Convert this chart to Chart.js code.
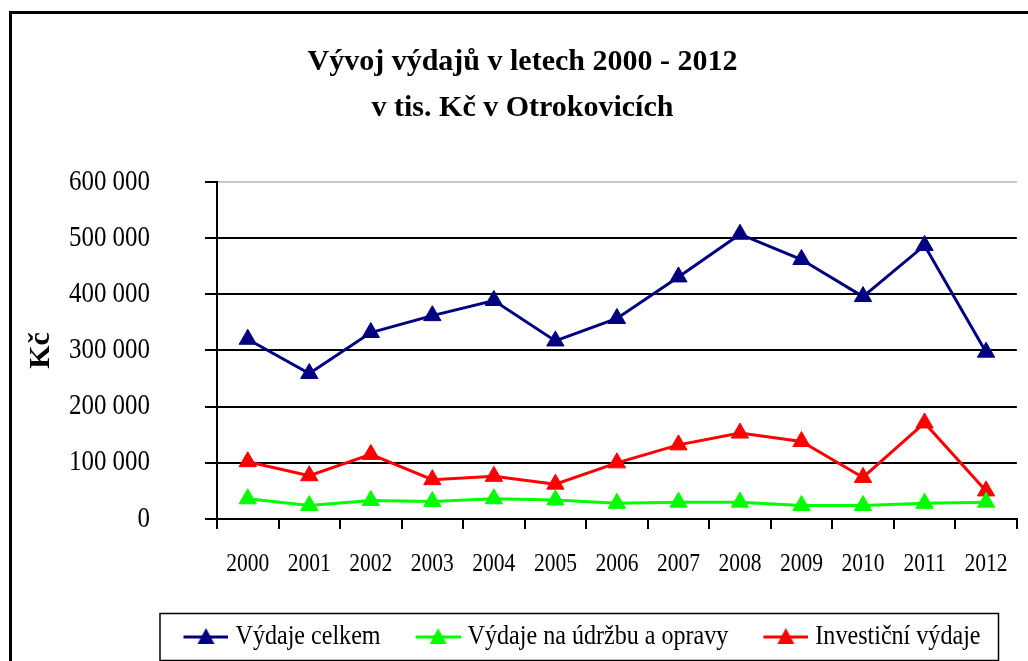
<!DOCTYPE html>
<html>
<head>
<meta charset="utf-8">
<title>Vývoj výdajů v letech 2000 - 2012</title>
<script src="https://cdn.jsdelivr.net/npm/chart.js@4.4.1/dist/chart.umd.min.js"></script>
<style>
  html, body { margin: 0; padding: 0; background: #fff; }
  canvas { display: block; }
</style>
</head>
<body>
<canvas id="vydajeChart" width="1028" height="661"></canvas>
<script>
// values
const years = ["2000", "2001", "2002", "2003", "2004", "2005", "2006",
               "2007", "2008", "2009", "2010", "2011", "2012"];
const vydajeCelkem = [320000, 259000, 332000, 362000, 389000, 317000, 357000,
                      431000, 507000, 462000, 396000, 487000, 297000];
const vydajeUdrzba = [36000, 24000, 33000, 31000, 36000, 34000, 28000,
                      30000, 30000, 24000, 24000, 28000, 30000];
const investicniVydaje = [102000, 77000, 115000, 70000, 76000, 62000, 100000,
                          132000, 153000, 138000, 74000, 171000, 50000];
const yTicks = [0, 100000, 200000, 300000, 400000, 500000, 600000];
const yTickLabels = ["0", "100 000", "200 000", "300 000", "400 000", "500 000", "600 000"];

const canvas = document.getElementById("vydajeChart");
const ctx = canvas.getContext("2d");

// the original uses a narrow Times face - squeeze the regular text a bit
const SQUEEZE = 0.86;
const baseFillText = ctx.fillText.bind(ctx);
const baseMeasureText = ctx.measureText.bind(ctx);
function squeezeFor(font) {
    return /bold/.test(font) ? 1 : SQUEEZE;
}
ctx.fillText = function(text, x, y, maxWidth) {
    const s = squeezeFor(ctx.font);
    ctx.save();
    ctx.translate(x, y);
    ctx.scale(s, 1);
    if (maxWidth === undefined) baseFillText(text, 0, 0);
    else baseFillText(text, 0, 0, maxWidth / s);
    ctx.restore();
};
ctx.measureText = function(text) {
    const m = baseMeasureText(text);
    const s = squeezeFor(ctx.font);
    return {
        width: m.width * s,
        actualBoundingBoxAscent: m.actualBoundingBoxAscent,
        actualBoundingBoxDescent: m.actualBoundingBoxDescent,
        actualBoundingBoxLeft: m.actualBoundingBoxLeft * s,
        actualBoundingBoxRight: m.actualBoundingBoxRight * s,
    };
};

// Excel style legend key: short line with a triangle on it
function legendMark(color) {
    const c = document.createElement("canvas");
    c.width = 83;
    c.height = 24;
    const g = c.getContext("2d");
    g.strokeStyle = color;
    g.lineWidth = 3;
    g.beginPath();
    g.moveTo(38, 12);
    g.lineTo(83, 12);
    g.stroke();
    g.fillStyle = color;
    g.beginPath();
    g.moveTo(60.5, 3);
    g.lineTo(69, 19);
    g.lineTo(52, 19);
    g.closePath();
    g.fill();
    return c;
}

const colors = ["#000080", "#00ff00", "#ff0000"];
const legendMarks = colors.map(legendMark);

// the legend in the original sits right of centre
const LEGEND_OFFSET = 44;

// outer frame + legend border
const framePlugin = {
    id: "frame",
    afterLayout(chart) {
        chart.legend.left += 2 * LEGEND_OFFSET;
    },
    afterDraw(chart) {
        const c = chart.ctx;
        c.save();
        c.strokeStyle = "#000";
        c.lineWidth = 3;
        c.strokeRect(10.5, 12.5, 1100, 700);
        const boxes = chart.legend.legendHitBoxes;
        if (boxes && boxes.length) {
            const first = boxes[0];
            const last = boxes[boxes.length - 1];
            const cy = first.top + first.height / 2;
            const x0 = first.left + 7.5;
            const x1 = last.left + last.width + 18;
            c.lineWidth = 1.5;
            c.strokeRect(x0, cy - 23.5, x1 - x0, 47);
        }
        c.restore();
    }
};

Chart.defaults.font.family = "'Liberation Serif', 'Times New Roman', serif";
Chart.defaults.color = "#000";

function lineSet(label, data, color) {
    return {
        label: label,
        data: data,
        borderColor: color,
        backgroundColor: color,
        borderWidth: 3,
        pointStyle: "triangle",
        pointRadius: 10,
        pointHoverRadius: 10,
        pointBorderWidth: 1,
        tension: 0,
    };
}

new Chart(canvas, {
    type: "line",
    data: {
        labels: years,
        datasets: [
            lineSet("Výdaje celkem", vydajeCelkem, colors[0]),
            lineSet("Výdaje na údržbu a opravy", vydajeUdrzba, colors[1]),
            lineSet("Investiční výdaje", investicniVydaje, colors[2]),
        ],
    },
    options: {
        responsive: false,
        animation: false,
        devicePixelRatio: 1,
        layout: {
            padding: { left: 18, right: 1, top: 0, bottom: 0 },
        },
        plugins: {
            title: {
                display: true,
                text: ["Vývoj výdajů v letech 2000 - 2012", "v tis. Kč v Otrokovicích"],
                color: "#000",
                font: { size: 30, weight: "bold", lineHeight: 1.533 },
                padding: { top: 39, bottom: 51 },
            },
            legend: {
                position: "bottom",
                labels: {
                    usePointStyle: true,
                    pointStyleWidth: 69,
                    padding: 4,
                    color: "#000",
                    font: { size: 28 },
                    generateLabels(chart) {
                        const items = Chart.defaults.plugins.legend.labels.generateLabels(chart);
                        items.forEach((item, i) => { item.pointStyle = legendMarks[i]; });
                        return items;
                    },
                },
            },
            tooltip: { enabled: false },
        },
        scales: {
            x: {
                offset: true,
                afterFit(scale) { scale.height = 100; },
                ticks: {
                    padding: 20,
                    color: "#000",
                    font: { size: 25 },
                    maxRotation: 0,
                    autoSkip: false,
                },
                grid: {
                    offset: true,
                    drawOnChartArea: false,
                    tickLength: 10,
                    lineWidth: 2,
                    color: "#000",
                },
                border: { color: "#000", width: 2 },
            },
            y: {
                min: 0,
                max: 600000,
                afterBuildTicks(scale) {
                    scale.ticks = yTicks.map(v => ({ value: v }));
                },
                afterFit(scale) { scale.width = 199; },
                ticks: {
                    padding: 55,
                    color: "#000",
                    font: { size: 29 },
                    callback: (value, index) => yTickLabels[index],
                },
                grid: {
                    color: c => (c.tick && c.tick.value === 600000 ? "#c8c8c8" : "#000"),
                    tickColor: "#000",
                    lineWidth: 2,
                    tickLength: 12,
                },
                border: { color: "#000", width: 2 },
                title: {
                    display: true,
                    text: "Kč",
                    color: "#000",
                    font: { size: 30, weight: "bold" },
                    padding: { top: 5, bottom: 0 },
                },
            },
        },
    },
    plugins: [framePlugin],
});
</script>
</body>
</html>
